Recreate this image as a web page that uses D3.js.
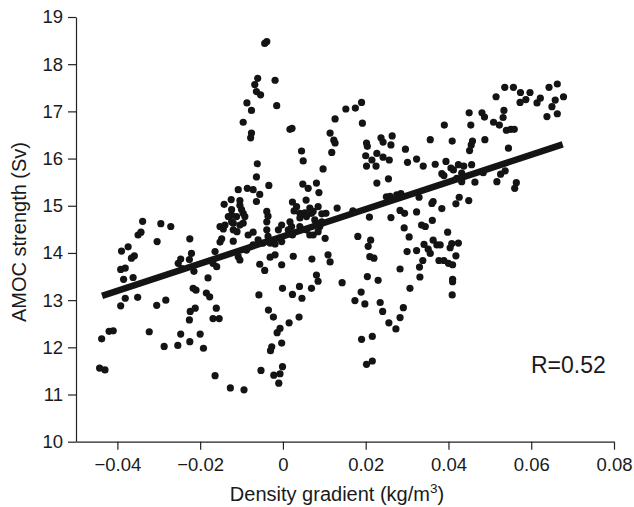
<!DOCTYPE html>
<html>
<head>
<meta charset="utf-8">
<script src="https://cdn.jsdelivr.net/npm/d3@7"></script>
<style>
  body { margin: 0; background: #fff; }
  svg text { font-family: "Liberation Sans", Arial, Helvetica, sans-serif; fill: #1a1a1a; }
</style>
</head>
<body>
<svg id="chart" width="634" height="507"></svg>
<script>
// tick values on both axes
const xTicks = [-0.04, -0.02, 0, 0.02, 0.04, 0.06, 0.08];
const yTicks = [10, 11, 12, 13, 14, 15, 16, 17, 18, 19];

// regression line
const fitStart = [-0.0437, 13.09];
const fitEnd = [0.0676, 16.30];
const rLabel = "R=0.52";

// [density gradient, AMOC strength]
const points = [
  [-0.0443,11.56],[-0.0430,11.52],[-0.0438,12.18],[-0.0420,12.34],[-0.0410,12.35],
  [-0.0392,12.88],[-0.0381,13.04],[-0.0351,13.06],[-0.0385,13.44],[-0.0362,13.48],
  [-0.0392,13.65],[-0.0381,13.68],[-0.0390,14.04],[-0.0374,14.13],[-0.0359,13.94],
  [-0.0366,13.89],[-0.0350,14.38],[-0.0343,14.44],[-0.0339,14.67],[-0.0304,14.24],
  [-0.0295,14.62],[-0.0271,14.56],[-0.0323,12.33],[-0.0305,12.89],[-0.0283,13.00],
  [-0.0287,12.02],[-0.0254,12.04],[-0.0247,12.28],[-0.0225,12.12],[-0.0200,12.28],
  [-0.0192,11.98],[-0.0225,14.30],[-0.0221,13.99],[-0.0247,13.87],[-0.0226,13.86],
  [-0.0253,13.78],[-0.0244,13.67],[-0.0215,13.61],[-0.0217,13.25],[-0.0210,13.21],
  [-0.0224,12.76],[-0.0212,12.83],[-0.0226,12.58],
  [-0.0181,13.47],[-0.0185,13.15],[-0.0177,13.07],[-0.0164,14.03],[-0.0169,13.78],
  [-0.0160,13.71],[-0.0161,12.83],[-0.0169,12.61],[-0.0154,12.61],[-0.0164,11.40],
  [-0.0127,11.14],[-0.0094,11.10],[-0.0152,14.56],[-0.0144,14.51],[-0.0148,14.30],
  [-0.0152,14.23],[-0.0140,14.59],
  [-0.0125,15.13],[-0.0104,15.11],[-0.0142,15.03],[-0.0104,15.01],[-0.0108,15.34],
  [-0.0086,15.37],[-0.0072,15.34],[-0.0056,15.24],[-0.0064,15.09],[-0.0062,15.89],
  [-0.0064,15.61],[-0.0034,15.43],[-0.0124,14.92],[-0.0100,14.92],[-0.0096,14.84],
  [-0.0124,14.80],[-0.0112,14.77],[-0.0092,14.77],[-0.0132,14.77],[-0.0120,14.63],
  [-0.0096,14.63],[-0.0104,14.59],[-0.0124,14.66],[-0.0120,14.49],[-0.0111,14.45],
  [-0.0084,14.38],[-0.0072,14.44],[-0.0120,14.25],[-0.0060,14.28],[-0.0048,14.21],
  [-0.0039,14.88],[-0.0036,14.78],[-0.0039,14.66],[-0.0039,14.49],[-0.0036,14.35],
  [-0.0031,14.21],[-0.0019,14.19],[-0.0003,14.24],[-0.0003,14.59],[-0.0011,14.49],
  [0.0017,14.66],[0.0021,14.56],[0.0013,14.49],[0.0023,14.38],[0.0033,14.98],
  [0.0027,14.89],[0.0041,14.84],[0.0023,15.08],[0.0041,14.74],[0.0041,14.56],
  [0.0057,14.49],[0.0065,14.38],[0.0057,14.77],[0.0069,14.84],[0.0053,14.85],
  [0.0065,14.95],[0.0073,14.88],[0.0077,14.70],[0.0081,14.63],[0.0094,14.66],
  [0.0089,14.56],[0.0085,14.45],[0.0073,14.38],[0.0085,14.98],[0.0094,14.83],
  [0.0104,14.84],[0.0131,14.95],[0.0056,15.12],[0.0048,15.46],[0.0061,15.37],
  [0.0081,15.48],[0.0087,15.28],[0.0097,15.78],[0.0045,16.16],[0.0049,15.95],
  [0.0118,16.13],[0.0102,14.31],
  [-0.0108,13.92],[-0.0104,13.85],[-0.0056,13.76],[-0.0044,13.63],[-0.0031,13.91],
  [-0.0019,13.96],[-0.0003,13.75],[0.0025,13.93],[0.0070,13.87],[0.0109,13.96],
  [0.0114,13.81],[0.0081,13.53],[0.0085,13.40],[0.0069,13.25],[0.0040,13.29],
  [0.0023,13.12],[0.0046,13.04],[-0.0058,13.11],[-0.0001,13.25],[-0.0035,12.79],
  [-0.0023,12.64],[0.0015,12.52],[0.0039,12.64],[-0.0007,12.40],[-0.0014,12.31],
  [-0.0027,12.01],[-0.0030,11.93],[-0.0003,12.09],[-0.0053,11.51],[-0.0022,11.41],
  [-0.0007,11.44],[-0.0001,11.59],[-0.0010,11.24],[-0.0088,14.06],[-0.0072,14.17],
  [-0.0039,18.48],[-0.0044,18.44],[-0.0061,17.70],[-0.0068,17.57],[-0.0019,17.66],
  [-0.0064,17.42],[-0.0054,17.35],[-0.0087,17.18],[-0.0076,17.02],[-0.0015,17.12],
  [-0.0096,16.77],[-0.0076,16.54],[-0.0078,16.44],[0.0017,16.62],[0.0022,16.64],
  [0.0190,17.19],[0.0175,17.07],[0.0152,17.05],[0.0126,16.84],[0.0192,16.75],
  [0.0114,16.54],[0.0123,16.39],[0.0126,16.33],[0.0202,16.33],[0.0204,16.26],
  [0.0237,16.44],[0.0242,16.35],[0.0264,16.48],[0.0261,16.29],[0.0296,16.20],
  [0.0200,16.06],[0.0227,16.11],[0.0242,16.03],[0.0257,15.97],[0.0215,15.97],
  [0.0202,15.84],[0.0225,15.84],[0.0301,15.92],[0.0323,15.99],[0.0339,15.84],
  [0.0368,15.88],[0.0390,16.71],[0.0356,16.40],[0.0394,15.94],[0.0384,15.68],
  [0.0389,15.64],[0.0227,15.48],[0.0255,15.57],[0.0250,15.19],[0.0259,15.20],
  [0.0275,15.23],[0.0285,15.26],[0.0329,15.18],[0.0363,15.09],[0.0360,15.05],
  [0.0384,14.94],[0.0169,14.89],[0.0283,14.90],[0.0294,14.84],[0.0323,14.87],
  [0.0209,14.76],[0.0261,14.75],[0.0293,14.53],[0.0305,14.34],[0.0335,14.59],
  [0.0344,14.56],[0.0361,14.69],[0.0398,14.44],[0.0181,14.35],[0.0212,14.27],
  [0.0206,14.14],[0.0210,13.92],[0.0220,13.89],[0.0300,14.03],[0.0323,14.05],
  [0.0341,14.18],[0.0351,14.08],[0.0363,14.27],[0.0372,14.17],[0.0356,13.99],
  [0.0377,13.84],[0.0389,13.84],[0.0400,13.78],[0.0338,13.84],[0.0330,13.70],
  [0.0283,13.66],[0.0331,13.49],[0.0307,13.25],[0.0143,13.37],[0.0204,13.50],
  [0.0230,13.42],[0.0189,13.17],[0.0174,12.99],[0.0198,12.92],[0.0235,12.95],
  [0.0241,12.76],[0.0291,12.84],[0.0283,12.63],[0.0256,12.52],[0.0273,12.39],
  [0.0190,12.17],[0.0216,12.23],[0.0202,11.64],[0.0216,11.71],
  [0.0536,17.51],[0.0557,17.51],[0.0643,17.51],[0.0663,17.58],[0.0515,17.31],
  [0.0574,17.40],[0.0597,17.40],[0.0587,17.25],[0.0573,17.19],[0.0622,17.28],
  [0.0614,17.18],[0.0678,17.31],[0.0658,17.24],[0.0650,17.10],[0.0663,16.95],
  [0.0638,16.89],[0.0450,16.97],[0.0481,16.97],[0.0487,16.88],[0.0534,17.02],
  [0.0532,16.87],[0.0523,16.71],[0.0509,16.77],[0.0540,16.60],[0.0551,16.62],
  [0.0559,16.62],[0.0454,16.71],[0.0409,16.37],[0.0458,16.37],[0.0455,16.29],
  [0.0451,16.17],[0.0488,16.40],[0.0545,16.22],[0.0406,15.80],[0.0424,15.87],
  [0.0437,15.84],[0.0456,15.87],[0.0412,15.76],[0.0432,15.69],[0.0420,15.58],
  [0.0432,15.51],[0.0464,15.50],[0.0484,15.70],[0.0526,15.67],[0.0537,15.74],
  [0.0517,15.51],[0.0564,15.49],[0.0560,15.37],[0.0426,15.18],[0.0418,15.04],
  [0.0449,15.11],[0.0380,14.17],[0.0408,14.20],[0.0424,14.21],[0.0404,14.11],
  [0.0418,13.94],[0.0410,13.75],[0.0410,13.44],[0.0410,13.39],[0.0409,13.11]
];

const svg = d3.select("#chart");

let xScale = d3.scaleLinear().domain([-0.05, 0.08]).range([76, 614]);
let yScale = d3.scaleLinear().domain([10, 19]).range([441.7, 17]);

// axes
let xAxis = d3.axisBottom(xScale)
    .tickValues(xTicks)
    .tickSize(8)
    .tickSizeOuter(0)
    .tickPadding(8)
    .tickFormat(d => d === 0 ? "0" : d3.format(".2f")(d));
let yAxis = d3.axisLeft(yScale)
    .tickValues(yTicks)
    .tickSize(8)
    .tickSizeOuter(0)
    .tickPadding(5)
    .tickFormat(d3.format("d"));

let gx = svg.append("g").attr("transform", "translate(0,441.7)").call(xAxis);
let gy = svg.append("g").attr("transform", "translate(76,0)").call(yAxis);

[gx, gy].forEach(g => {
    g.selectAll("path, line").attr("stroke", "#222").attr("stroke-width", 1.2);
    g.selectAll("text").attr("font-size", 18.5).attr("fill", "#1a1a1a");
});

// points
svg.append("g")
    .selectAll("circle")
    .data(points)
    .enter()
    .append("circle")
    .attr("cx", d => xScale(d[0]))
    .attr("cy", d => yScale(d[1]))
    .attr("r", 3.6)
    .attr("fill", "#141414");

// fitted line
svg.append("line")
    .attr("x1", xScale(fitStart[0]))
    .attr("y1", yScale(fitStart[1]))
    .attr("x2", xScale(fitEnd[0]))
    .attr("y2", yScale(fitEnd[1]))
    .attr("stroke", "#141414")
    .attr("stroke-width", 6.5);

// labels
svg.append("text")
    .attr("x", 531)
    .attr("y", 373)
    .attr("font-size", 23)
    .text(rLabel);

let xTitle = svg.append("text")
    .attr("x", 337)
    .attr("y", 501)
    .attr("text-anchor", "middle")
    .attr("font-size", 20);
xTitle.append("tspan").text("Density gradient (kg/m");
xTitle.append("tspan").attr("dy", -8).attr("font-size", 13.5).text("3");
xTitle.append("tspan").attr("dy", 8).text(")");

svg.append("text")
    .attr("transform", "translate(26,232) rotate(-90)")
    .attr("text-anchor", "middle")
    .attr("font-size", 20)
    .text("AMOC strength (Sv)");
</script>
</body>
</html>
